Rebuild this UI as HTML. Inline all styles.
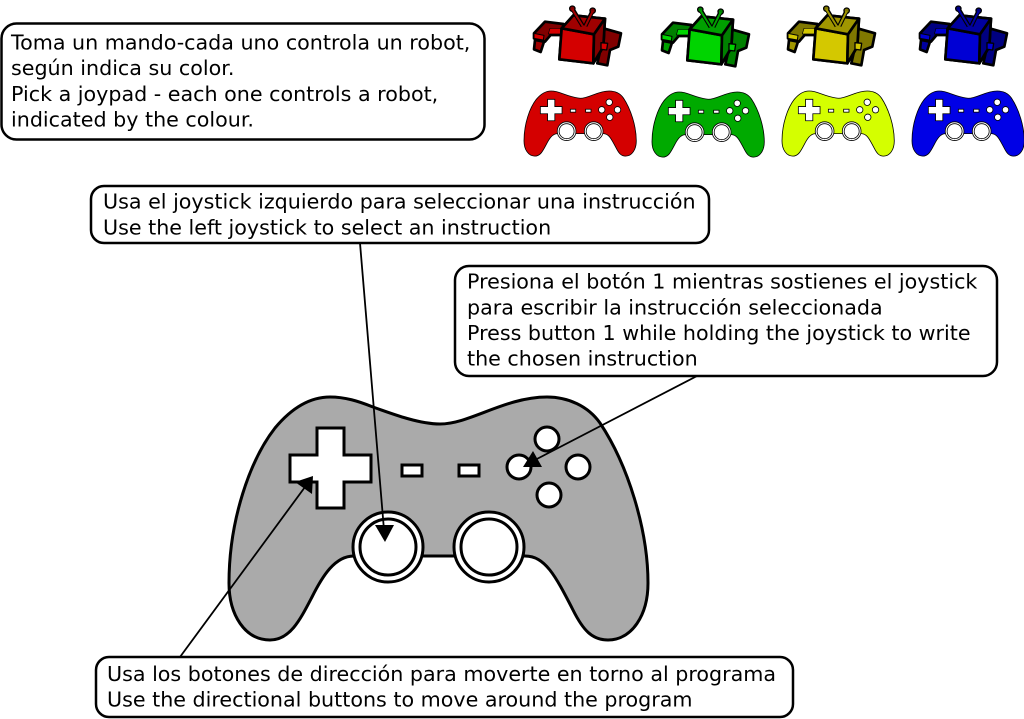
<!DOCTYPE html>
<html>
<head>
<meta charset="utf-8">
<style>
html,body{margin:0;padding:0;background:#fff;}
svg{display:block;}
text{font-family:"DejaVu Sans",sans-serif;font-size:20.65px;fill:#000;}
.box{fill:#fff;stroke:#000;stroke-width:2.5;}
.l{stroke:#000;stroke-width:1.8;fill:none;}
</style>
</head>
<body>
<svg xmlns="http://www.w3.org/2000/svg" width="1024" height="719" viewBox="0 0 1024 719">
<defs>
<g id="pad">
  <path d="M440 424 C420 424 395 415 373 407 C358 401 345 397 330 397 C308 397 290 410 275 428 C250 460 229 520 229 583 C229 615 245 640 270 640 C290 640 300 620 312 597 C322 577 335 555 355 556 L525 556 C545 556 555 575 573 610 C583 630 592 640 608 640 C632 640 648 615 648 583 C648 530 628 465 600 423 C588 406 568 397 547 397 C505 397 470 424 440 424 Z" stroke="#000" stroke-width="3"/>
  <path d="M317 428 H344 V455 H371 V482 H344 V508 H317 V482 H290 V455 H317 Z" fill="#fff" stroke="#000" stroke-width="3"/>
  <rect x="402" y="465" width="20" height="11" fill="#fff" stroke="#000" stroke-width="3"/>
  <rect x="459" y="465" width="20" height="11" fill="#fff" stroke="#000" stroke-width="3"/>
  <g fill="#fff" stroke="#000" stroke-width="3">
    <circle cx="388" cy="547" r="35"/><circle cx="388" cy="547" r="28"/>
    <circle cx="489" cy="547" r="35"/><circle cx="489" cy="547" r="28"/>
    <circle cx="519" cy="467" r="12"/><circle cx="547" cy="439" r="12"/>
    <circle cx="578" cy="467" r="12"/><circle cx="549" cy="495" r="12"/>
  </g>
</g>
<g id="robot" stroke="#000" stroke-width="8" stroke-linejoin="round">
  <path d="M75 65 L130 72 L125 105 L92 105 L75 125 L42 115 L42 100 Z" fill="var(--d)"/>
  <path d="M90 85 L122 85 L122 102 L85 102 Z" fill="var(--c)" stroke-width="2"/>
  <path d="M42 100 L72 106 L70 120 L42 115 Z" fill="var(--c)" stroke-width="3"/>
  <path d="M45 120 L72 125 L62 156 L42 148 Z" fill="var(--m)"/>
  <path d="M250 85 L303 100 L295 140 L270 150 L262 196 L232 190 L240 155 L235 120 Z" fill="var(--d)"/>
  <path d="M125 85 L160 46 L255 56 L250 140 L220 190 L118 178 Z" fill="var(--m)"/>
  <path d="M125 85 L222 103 L220 190 L118 178 Z" fill="var(--c)"/>
  <path d="M125 85 L160 46 L255 56 L222 103 Z" fill="var(--m)"/>
  <path d="M222 103 L255 56 L250 140 L220 190 Z" fill="var(--d)"/>
  <path d="M243 128 L263 130 L260 150 L243 148 Z" fill="var(--c)" stroke-width="4"/>
  <path d="M157 26 L188 78" stroke="#000" stroke-width="13" fill="none"/>
  <path d="M218 32 L196 78" stroke="#000" stroke-width="13" fill="none"/>
  <circle cx="157" cy="26" r="8" fill="var(--d)" stroke-width="4"/>
  <circle cx="218" cy="32" r="8" fill="var(--d)" stroke-width="4"/>
  <path d="M157 28 L188 78" stroke="var(--m)" stroke-width="6" fill="none"/>
  <path d="M218 34 L196 78" stroke="var(--m)" stroke-width="6" fill="none"/>
</g>
</defs>

<!-- robots -->
<g transform="translate(520,0) scale(.3333)" style="--c:#d40000;--m:#a00000;--d:#800000"><use href="#robot"/></g>
<g transform="translate(648,1) scale(.3333)" style="--c:#00d400;--m:#00a000;--d:#008000"><use href="#robot"/></g>
<g transform="translate(774,0) scale(.3333)" style="--c:#d4c800;--m:#a09600;--d:#807800"><use href="#robot"/></g>
<g transform="translate(906,0) scale(.3333)" style="--c:#0000d4;--m:#0000a0;--d:#000080"><use href="#robot"/></g>

<!-- small pads -->
<g transform="translate(524,91) scale(.268) translate(-229,-397)" fill="#d40000"><use href="#pad"/></g>
<g transform="translate(652,92) scale(.268) translate(-229,-397)" fill="#00aa00"><use href="#pad"/></g>
<g transform="translate(782,91) scale(.268) translate(-229,-397)" fill="#d4ff00"><use href="#pad"/></g>
<g transform="translate(912,91) scale(.268) translate(-229,-397)" fill="#0000e6"><use href="#pad"/></g>

<!-- big pad -->
<g fill="#aaaaaa"><use href="#pad"/></g>

<!-- connectors -->
<line class="l" x1="360" y1="243" x2="384" y2="530"/>
<polygon points="385,542 375,525 394,525" fill="#000"/>
<line class="l" x1="180" y1="657" x2="305" y2="487"/>
<polygon points="313,476 295,482 312,494" fill="#000"/>
<line class="l" x1="697" y1="376" x2="533" y2="461"/>
<polygon points="523,467 542,467 533,451" fill="#000"/>

<!-- boxes -->
<rect class="box" x="1.5" y="23.5" width="483" height="116" rx="15"/>
<text x="11" y="49.5">Toma un mando-cada uno controla un robot,</text>
<text x="11" y="75">según indica su color.</text>
<text x="11" y="101">Pick a joypad - each one controls a robot,</text>
<text x="11" y="126.5">indicated by the colour.</text>

<rect class="box" x="91" y="186" width="618" height="57" rx="13"/>
<text x="103" y="208.7">Usa el joystick izquierdo para seleccionar una instrucción</text>
<text x="103" y="234.3">Use the left joystick to select an instruction</text>

<rect class="box" x="455" y="266" width="542" height="110" rx="14"/>
<text x="467" y="288.3">Presiona el botón 1 mientras sostienes el joystick</text>
<text x="467" y="314.3">para escribir la instrucción seleccionada</text>
<text x="467" y="340">Press button 1 while holding the joystick to write</text>
<text x="467" y="365.3">the chosen instruction</text>

<rect class="box" x="96" y="657" width="697" height="60" rx="13"/>
<text x="107" y="681">Usa los botones de dirección para moverte en torno al programa</text>
<text x="107" y="706.7">Use the directional buttons to move around the program</text>
</svg>
</body>
</html>
